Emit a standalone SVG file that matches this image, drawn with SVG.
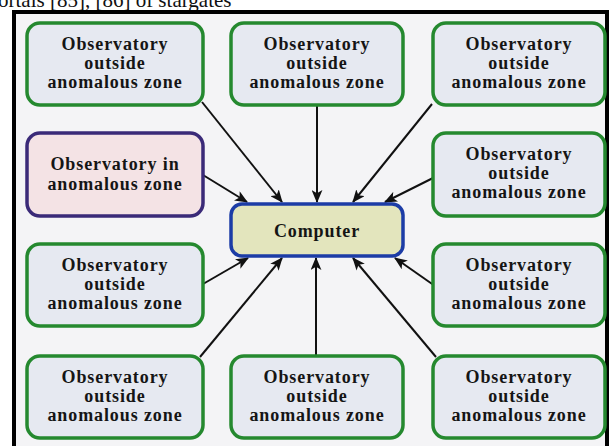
<svg xmlns="http://www.w3.org/2000/svg" width="609" height="446" viewBox="0 0 609 446">
<defs>
<style>
.obs{fill:#e6e9f1;stroke:#25892f;stroke-width:3.5}
.lbl{font-family:"Liberation Serif","Times New Roman",serif;font-weight:bold;font-size:18px;fill:#151515;text-anchor:middle;letter-spacing:0.9px}
.cap{font-family:"Liberation Serif","Times New Roman",serif;font-size:21px;fill:#111}
.con line{stroke:#111;stroke-width:2;marker-end:url(#ah)}
</style>
<marker id="ah" viewBox="0 0 12 10" refX="11" refY="5" markerWidth="13" markerHeight="11" markerUnits="userSpaceOnUse" orient="auto">
<path d="M0,0 L12,5 L0,10 L3,5 Z" fill="#111"/>
</marker>
</defs>
<rect x="0" y="0" width="609" height="446" fill="#ffffff"/>
<text class="cap" x="-2" y="7">ortals [85], [86] of stargates</text>
<rect x="14" y="12" width="593" height="440" fill="#f4f4f6" stroke="#000" stroke-width="4"/>

<g id="connectors" class="con">
<line x1="202" y1="102" x2="282" y2="202"/>
<line x1="317" y1="106" x2="317" y2="202"/>
<line x1="432" y1="104" x2="353" y2="202"/>
<line x1="203" y1="175" x2="247" y2="202"/>
<line x1="433" y1="178" x2="385" y2="202"/>
<line x1="203" y1="284" x2="248" y2="258"/>
<line x1="435" y1="286" x2="395" y2="258"/>
<line x1="200" y1="357" x2="282" y2="258"/>
<line x1="316" y1="356" x2="316" y2="258"/>
<line x1="436" y1="357" x2="353" y2="258"/>
</g>

<g id="n1"><rect class="obs" x="27" y="23" width="176" height="82" rx="13"/>
<text class="lbl" x="115" y="50">Observatory</text><text class="lbl" x="115" y="69">outside</text><text class="lbl" x="115" y="88">anomalous zone</text></g>
<g id="n2"><rect class="obs" x="231" y="23" width="172" height="82" rx="13"/>
<text class="lbl" x="317" y="50">Observatory</text><text class="lbl" x="317" y="69">outside</text><text class="lbl" x="317" y="88">anomalous zone</text></g>
<g id="n3"><rect class="obs" x="433" y="23" width="172" height="82" rx="13"/>
<text class="lbl" x="519" y="50">Observatory</text><text class="lbl" x="519" y="69">outside</text><text class="lbl" x="519" y="88">anomalous zone</text></g>
<g id="n4"><rect x="27" y="133" width="176" height="83" rx="13" fill="#f4e3e5" stroke="#3a2a78" stroke-width="3.5"/>
<text class="lbl" x="115" y="170">Observatory in</text><text class="lbl" x="115" y="190">anomalous zone</text></g>
<g id="n5"><rect class="obs" x="433" y="133" width="172" height="83" rx="13"/>
<text class="lbl" x="519" y="160">Observatory</text><text class="lbl" x="519" y="179">outside</text><text class="lbl" x="519" y="198">anomalous zone</text></g>
<g id="computer"><rect x="231" y="204" width="172" height="52" rx="11" fill="#e3e5bd" stroke="#1c3ca6" stroke-width="3.5"/>
<text class="lbl" x="317" y="237">Computer</text></g>
<g id="n6"><rect class="obs" x="27" y="244" width="176" height="82" rx="13"/>
<text class="lbl" x="115" y="271">Observatory</text><text class="lbl" x="115" y="290">outside</text><text class="lbl" x="115" y="309">anomalous zone</text></g>
<g id="n7"><rect class="obs" x="433" y="244" width="172" height="82" rx="13"/>
<text class="lbl" x="519" y="271">Observatory</text><text class="lbl" x="519" y="290">outside</text><text class="lbl" x="519" y="309">anomalous zone</text></g>
<g id="n8"><rect class="obs" x="27" y="356" width="176" height="82" rx="13"/>
<text class="lbl" x="115" y="383">Observatory</text><text class="lbl" x="115" y="402">outside</text><text class="lbl" x="115" y="421">anomalous zone</text></g>
<g id="n9"><rect class="obs" x="231" y="356" width="172" height="82" rx="13"/>
<text class="lbl" x="317" y="383">Observatory</text><text class="lbl" x="317" y="402">outside</text><text class="lbl" x="317" y="421">anomalous zone</text></g>
<g id="n10"><rect class="obs" x="433" y="356" width="172" height="82" rx="13"/>
<text class="lbl" x="519" y="383">Observatory</text><text class="lbl" x="519" y="402">outside</text><text class="lbl" x="519" y="421">anomalous zone</text></g>
</svg>
